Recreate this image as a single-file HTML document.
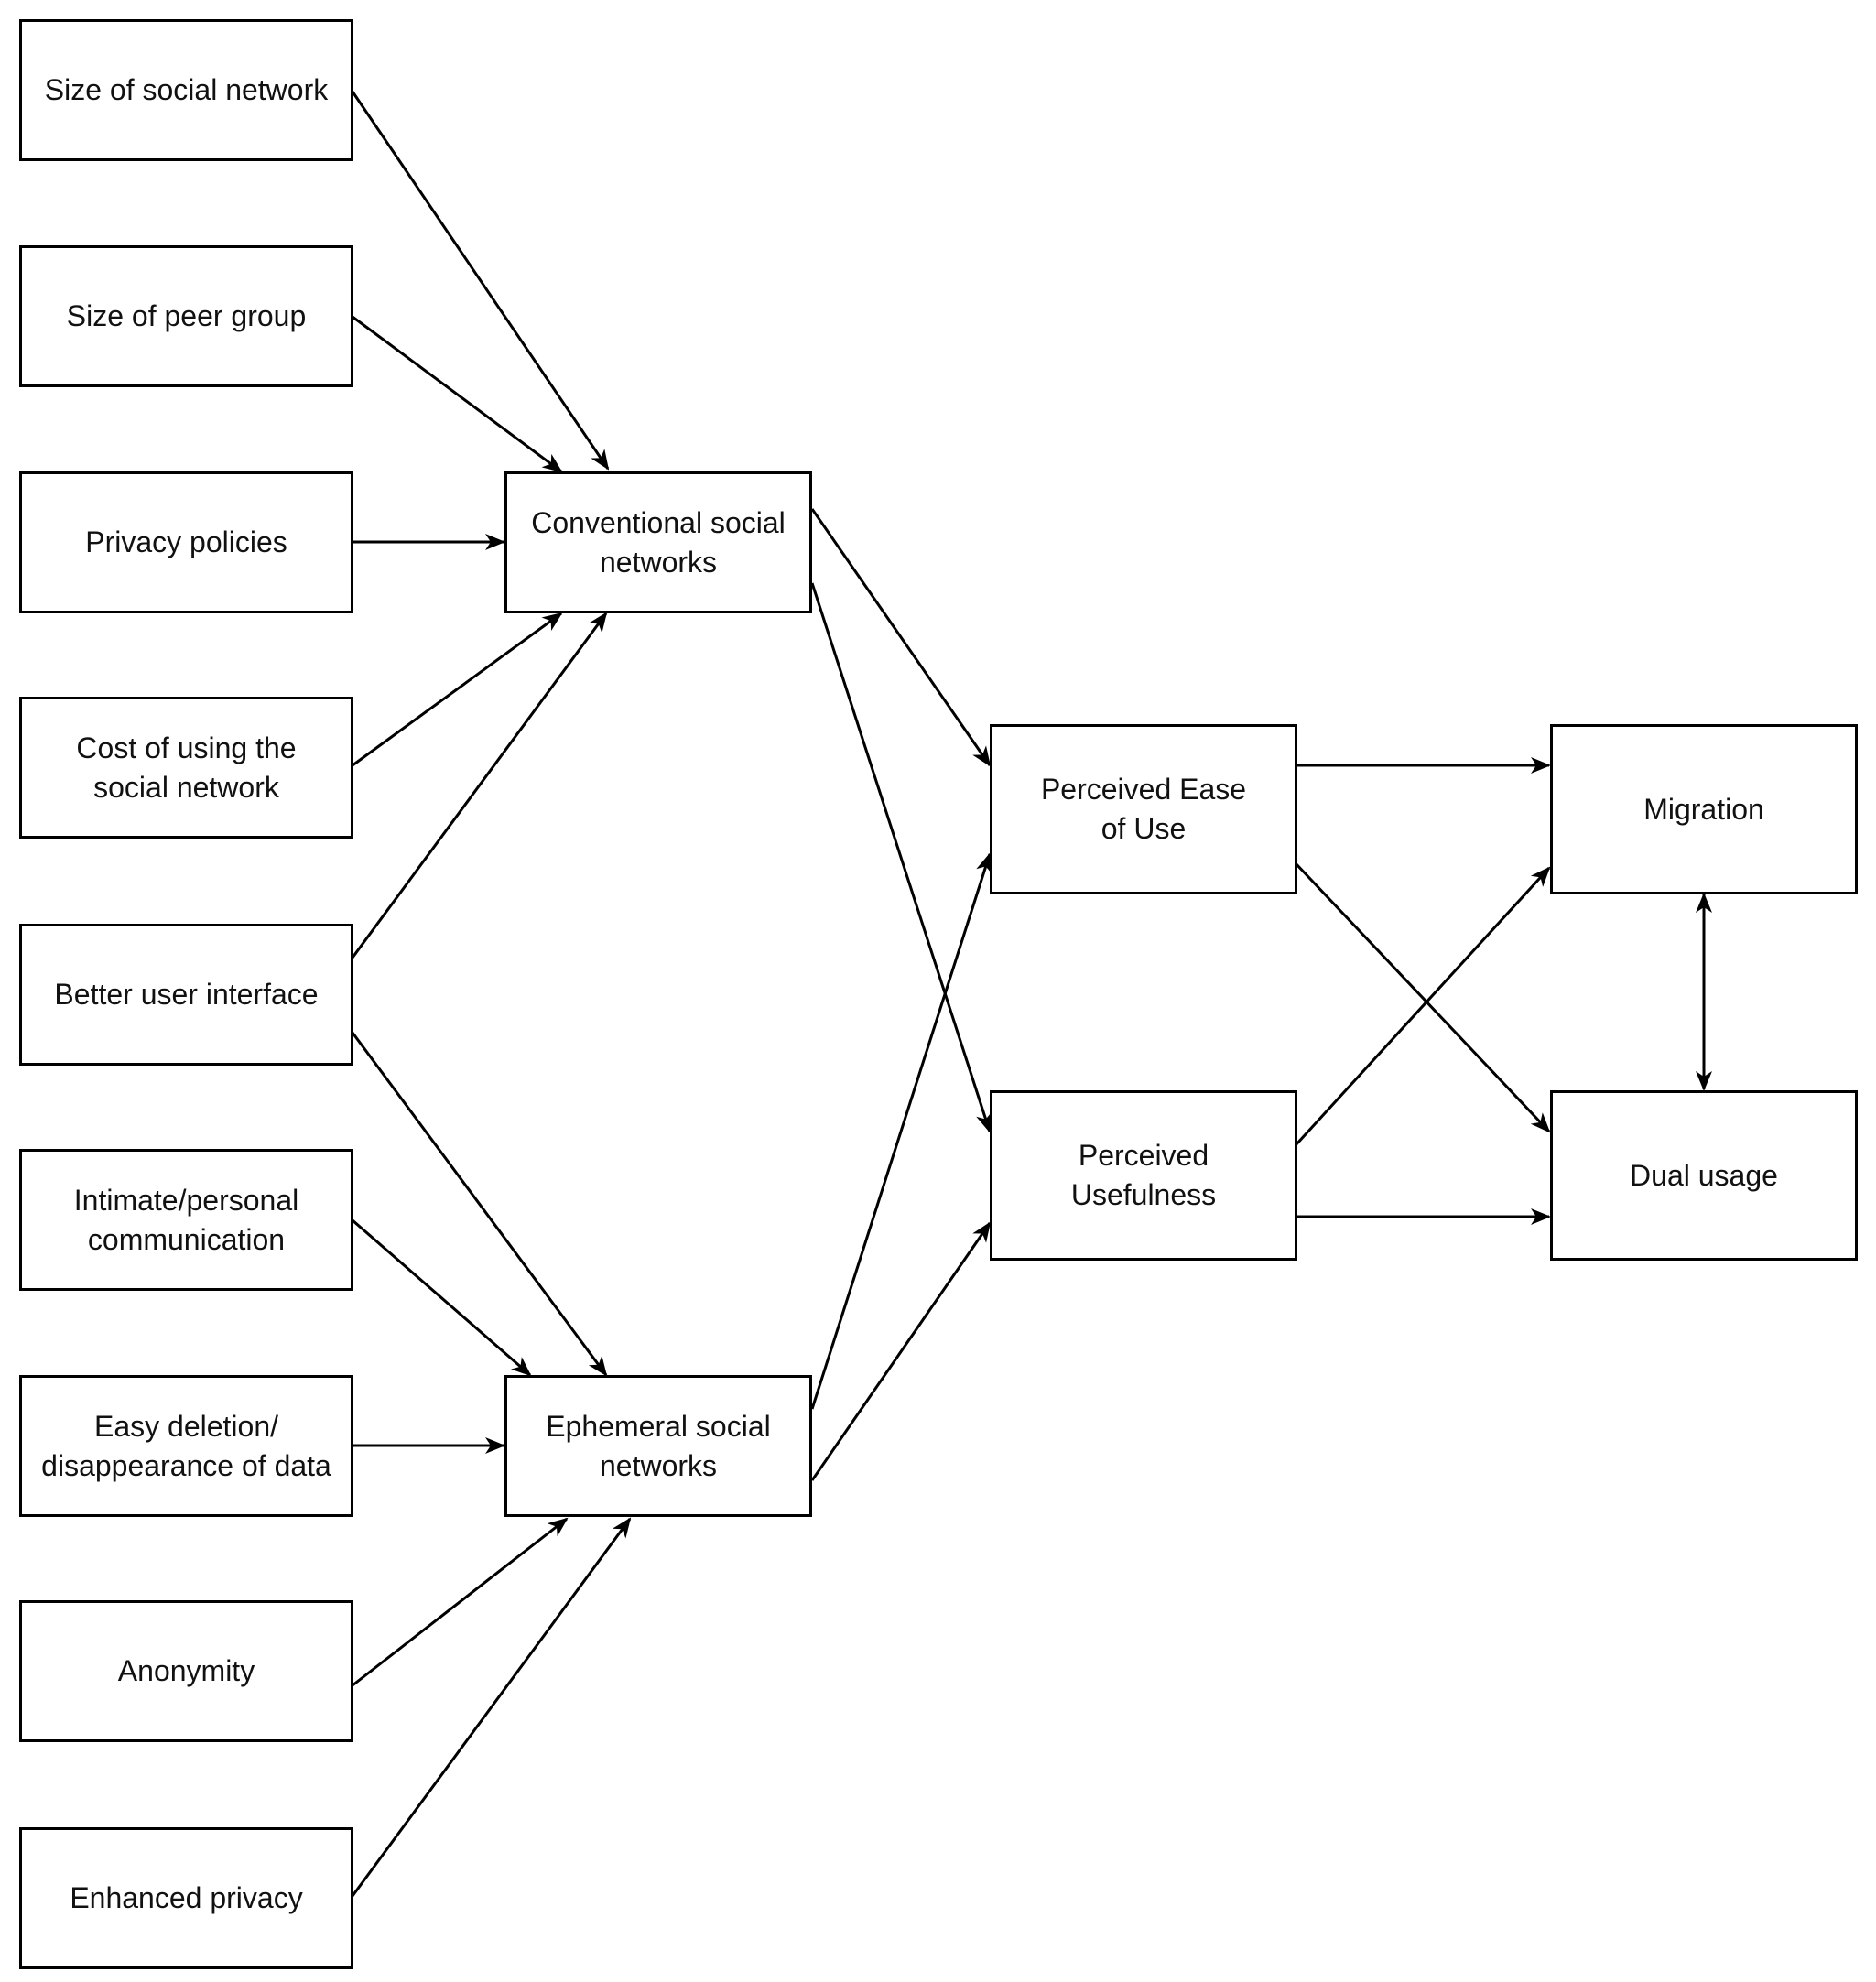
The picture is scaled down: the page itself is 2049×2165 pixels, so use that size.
<!DOCTYPE html>
<html><head><meta charset="utf-8"><style>
body{margin:0;background:#fff}
.b{position:absolute;border:3px solid #000;box-sizing:border-box;display:flex;align-items:center;justify-content:center;text-align:center;font-family:"Liberation Sans",sans-serif;font-size:32px;line-height:43px;color:#111}
</style></head><body>
<div style="position:relative;width:2049px;height:2165px;overflow:hidden">
<svg width="2049" height="2165" style="position:absolute;left:0;top:0">
<defs><marker id="a" markerWidth="10" markerHeight="10" refX="9" refY="5" orient="auto" markerUnits="userSpaceOnUse" viewBox="0 0 10 10"><path d="M0,0 L10,5 L0,10 L3,5z" fill="#000"/></marker>
<marker id="m" markerWidth="22" markerHeight="22" refX="20" refY="11" orient="auto" markerUnits="userSpaceOnUse"><path d="M0,2 L22,11 L0,20 L6,11z" fill="#000"/></marker></defs>
<g stroke="#000" stroke-width="3" fill="none" marker-end="url(#m)">
<line x1="385" y1="100" x2="664" y2="512"/>
<line x1="385" y1="346" x2="613" y2="515"/>
<line x1="385" y1="592" x2="550" y2="592"/>
<line x1="385" y1="836" x2="613" y2="670"/>
<line x1="385" y1="1046" x2="662" y2="670"/>
<line x1="385" y1="1128" x2="662" y2="1502"/>
<line x1="385" y1="1333" x2="579" y2="1502"/>
<line x1="385" y1="1579" x2="550" y2="1579"/>
<line x1="385" y1="1841" x2="619" y2="1659"/>
<line x1="385" y1="2071" x2="688" y2="1659"/>
<line x1="887" y1="556" x2="1081" y2="836"/>
<line x1="887" y1="637" x2="1081" y2="1236"/>
<line x1="887" y1="1539" x2="1081" y2="933"/>
<line x1="887" y1="1617" x2="1081" y2="1336"/>
<line x1="1415" y1="836" x2="1692" y2="836"/>
<line x1="1415" y1="943" x2="1692" y2="1236"/>
<line x1="1415" y1="1251" x2="1692" y2="948"/>
<line x1="1415" y1="1329" x2="1692" y2="1329"/>
<line x1="1861" y1="1083" x2="1861" y2="977"/>
<line x1="1861" y1="1083" x2="1861" y2="1190"/>
</g>
</svg>
<div class="b" style="left:21px;top:21px;width:365px;height:155px">Size of social network</div>
<div class="b" style="left:21px;top:268px;width:365px;height:155px">Size of peer group</div>
<div class="b" style="left:21px;top:515px;width:365px;height:155px">Privacy policies</div>
<div class="b" style="left:21px;top:761px;width:365px;height:155px">Cost of using the<br>social network</div>
<div class="b" style="left:21px;top:1009px;width:365px;height:155px">Better user interface</div>
<div class="b" style="left:21px;top:1255px;width:365px;height:155px">Intimate/personal<br>communication</div>
<div class="b" style="left:21px;top:1502px;width:365px;height:155px">Easy deletion/<br>disappearance of data</div>
<div class="b" style="left:21px;top:1748px;width:365px;height:155px">Anonymity</div>
<div class="b" style="left:21px;top:1996px;width:365px;height:155px">Enhanced privacy</div>
<div class="b" style="left:551px;top:515px;width:336px;height:155px">Conventional social<br>networks</div>
<div class="b" style="left:551px;top:1502px;width:336px;height:155px">Ephemeral social<br>networks</div>
<div class="b" style="left:1081px;top:791px;width:336px;height:186px">Perceived Ease<br>of Use</div>
<div class="b" style="left:1081px;top:1191px;width:336px;height:186px">Perceived<br>Usefulness</div>
<div class="b" style="left:1693px;top:791px;width:336px;height:186px">Migration</div>
<div class="b" style="left:1693px;top:1191px;width:336px;height:186px">Dual usage</div>
</div>
</body></html>
